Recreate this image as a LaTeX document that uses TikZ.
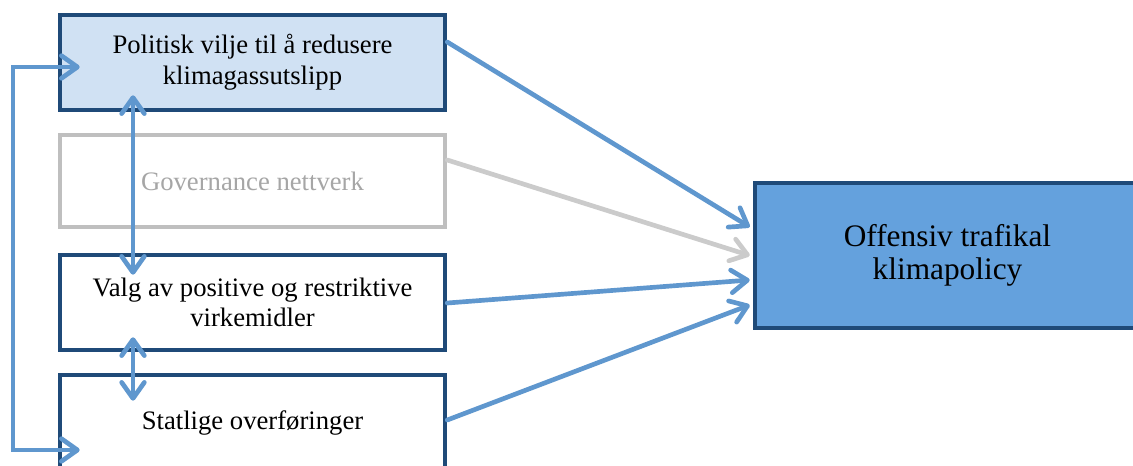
\documentclass[tikz,border=0pt]{standalone}
\usepackage{fontspec}
\setmainfont{Liberation Serif}
\usetikzlibrary{arrows.meta,calc}
\definecolor{navy}{HTML}{1F4A78}
\definecolor{arrblue}{HTML}{5F97CE}
\definecolor{lightfill}{HTML}{D0E1F3}
\definecolor{bigfill}{HTML}{64A1DD}
\definecolor{grayline}{HTML}{BFBFBF}
\definecolor{grayarrow}{HTML}{CBCBCB}
\definecolor{graytext}{HTML}{A6A6A6}
\tikzset{
  box/.style={draw=navy, line width=3.4pt, minimum width=288.75pt, minimum height=71.25pt,
    align=center, font=\fontsize{20}{23}\selectfont, inner sep=2pt},
  conn/.style={draw=arrblue, line width=3.5pt, line cap=round,
    arrows={-Straight Barb[length=12pt,width=17pt,round]}},
  dconn/.style={conn, arrows={Straight Barb[length=12pt,width=17pt,round]-Straight Barb[length=12pt,width=17pt,round]}},
}
\begin{document}
\begin{tikzpicture}[x=0.75pt,y=-0.75pt]
\useasboundingbox (0,0) rectangle (1133,465);
\node[box, fill=lightfill] (b1) at (252.5,62.5) {Politisk vilje til å redusere\\klimagassutslipp};
\node[box, draw=grayline, fill=white, text=graytext, minimum height=69pt] (b2) at (252.5,181) {Governance nettverk};
\node[box, fill=white] (b3) at (252.5,302.5) {Valg av positive og restriktive\\virkemidler};
\node[box, fill=white] (b4) at (252.5,422.5) {Statlige overføringer};
\node[box, fill=bigfill, minimum height=108.75pt, font=\fontsize{23.5}{25}\selectfont] (big) at (947.5,255.5) {Offensiv trafikal\\klimapolicy};
% arrows to big box
\draw[conn] ($(b1.east)+(0,-20.5)$) -- ($(big.west)+(-3,-28.5)$);
\draw[conn, draw=grayarrow] ($(b2.east)+(0,-21)$) -- ($(big.west)+(-3,0)$);
\draw[conn] ($(b3.east)+(0,0.5)$) -- ($(big.west)+(-3,24.5)$);
\draw[conn] ($(b4.east)+(0,-2.5)$) -- ($(big.west)+(-3,49.5)$);
% vertical double arrows
\draw[dconn] ($(b1.south)+(-119.5,-17)$) -- ($(b3.north)+(-119.5,22)$);
\draw[dconn] ($(b3.south)+(-119.5,-15)$) -- ($(b4.north)+(-119.5,28)$);
% feedback loop
\coordinate (fb) at (13,67);
\draw[dconn, line cap=butt] ($(b1.west)+(22,4.5)$) -- (fb) |- ($(b4.west)+(22,27.5)$);
\end{tikzpicture}
\end{document}
